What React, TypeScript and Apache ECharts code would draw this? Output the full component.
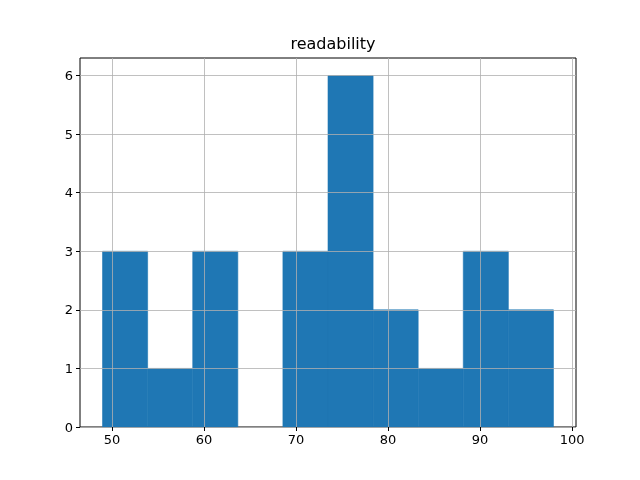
import React, { useEffect, useRef } from "react";
import * as echarts from "echarts";

const binEdges = [48.98, 53.88, 58.78, 63.68, 68.58, 73.48, 78.38, 83.28, 88.18, 93.08, 97.98];
const counts = [3, 1, 3, 0, 3, 6, 2, 1, 3, 2];
const xTicks = [50, 60, 70, 80, 90, 100];
const yTicks = [0, 1, 2, 3, 4, 5, 6];
const title = "readability";

export default function App() {
  const ref = useRef<HTMLDivElement>(null);
  useEffect(() => {
    const chart = echarts.init(ref.current!, null, { renderer: "svg" });
    const lo = binEdges[0];
    const hi = binEdges[binEdges.length - 1];
    const span = hi - lo;
    const xMin = lo - 0.05 * span;
    const xMax = hi + 0.05 * span;
    const yMax = Math.max(...counts) * 1.05;
    const data = counts.map((c, i) => [binEdges[i], binEdges[i + 1], c]);
    const font = "DejaVu Sans";
    const gridLine = { show: true, lineStyle: { color: "#b0b0b0", width: 0.8 } };
    chart.setOption({
      animation: false,
      title: {
        text: title,
        left: 328,
        top: 30,
        textAlign: "center",
        textStyle: { fontFamily: font, fontSize: 16, fontWeight: "normal", color: "#000" },
      },
      grid: {
        left: 80,
        right: 64,
        top: 58,
        bottom: 53,
        show: true,
        borderColor: "#000",
        borderWidth: 1,
        backgroundColor: "transparent",
      },
      xAxis: {
        type: "value",
        min: xMin,
        max: xMax,
        z: 5,
        axisLine: { show: false },
        axisTick: { show: true, inside: false, length: 4, customValues: xTicks, lineStyle: { color: "#000" } },
        axisLabel: {
          customValues: xTicks,
          color: "#000",
          fontFamily: font,
          fontSize: 13,
          margin: 6,
        },
        splitLine: gridLine,
      },
      yAxis: {
        type: "value",
        min: 0,
        max: yMax,
        z: 5,
        axisLine: { show: false },
        axisTick: { show: true, inside: false, length: 4, customValues: yTicks, lineStyle: { color: "#000" } },
        axisLabel: {
          customValues: yTicks,
          color: "#000",
          fontFamily: font,
          fontSize: 13,
          margin: 7,
        },
        splitLine: gridLine,
      },
      series: [
        {
          type: "custom",
          z: 1,
          data,
          encode: { x: [0, 1], y: 2 },
          renderItem: (params: any, api: any) => {
            if (api.value(2) <= 0) return null;
            const p0 = api.coord([api.value(0), api.value(2)]);
            const p1 = api.coord([api.value(1), 0]);
            return {
              type: "rect",
              shape: { x: p0[0], y: p0[1], width: p1[0] - p0[0], height: p1[1] - p0[1] },
              style: { fill: "#1f77b4", stroke: "#1f77b4", lineWidth: 0.6 },
            };
          },
        },
      ],
    });
    return () => chart.dispose();
  }, []);
  return <div ref={ref} style={{ position: "fixed", left: 0, top: 0, width: 640, height: 480 }} />;
}
